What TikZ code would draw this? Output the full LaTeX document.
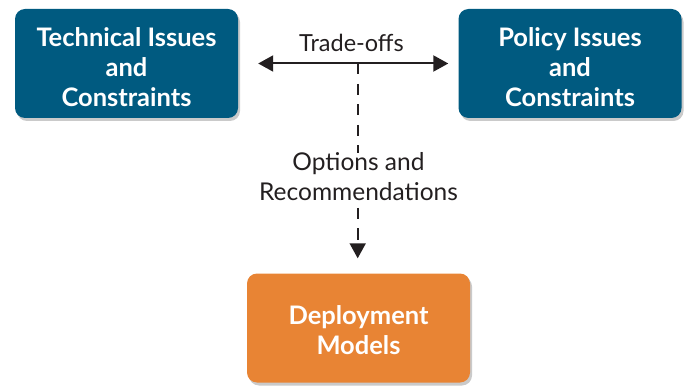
\documentclass[tikz,border=0pt]{standalone}
\usepackage{fontspec}
\setmainfont{Lato}
\usetikzlibrary{arrows.meta,shadows}
\definecolor{boxblue}{RGB}{0,90,128}
\definecolor{boxorange}{RGB}{232,132,52}
\definecolor{ink}{RGB}{35,31,32}
\newcommand{\lowerstrut}[1]{\rule{0pt}{#1}}
\tikzset{
  mainbox/.style={rounded corners=10pt, minimum width=223pt, minimum height=109pt,
    text=white, align=center, font=\bfseries\fontsize{25.5}{30}\selectfont,
    drop shadow={shadow xshift=2pt, shadow yshift=-3pt, opacity=0.35, fill=black!60}},
  bluebox/.style={mainbox, fill=boxblue},
  orangebox/.style={mainbox, fill=boxorange},
  lbl/.style={text=ink, align=center, font=\fontsize{24.5}{30}\selectfont, inner sep=0pt},
  dashline/.style={draw=ink, line width=1.8pt, dash pattern=on 11pt off 9.5pt},
  tip/.style={-{Triangle[length=15pt,width=16pt]}}
}
\begin{document}
\begin{tikzpicture}[x=1pt,y=1pt]
\useasboundingbox (0,0) rectangle (688,386);
\node[bluebox] (tech) at (126.5,322.5) {\lowerstrut{27pt}Technical Issues\\and\\Constraints};
\node[bluebox] (policy) at (570,322.5) {\lowerstrut{27pt}Policy Issues\\and\\Constraints};
\node[orangebox] (deploy) at (358.5,58) {\lowerstrut{23pt}Deployment\\Models};
\node[lbl, anchor=base, font=\fontsize{23.5}{30}\selectfont] (trade) at (351.5,334) {Trade-offs};
\node[lbl] (opts) at (358.5,209) {Options and\\Recommendations};
\coordinate (lend) at ([xshift=20pt]tech.east);
\coordinate (rend) at ([xshift=-10pt]policy.west);
\coordinate (junc) at (357.7,322.5);
\coordinate (dtop) at (357.7,178);
\draw[ink, line width=2pt, {Triangle[length=15pt,width=16pt]}-{Triangle[length=15pt,width=16pt]}] (lend) -- (rend);
\draw[dashline] (junc) -- (junc |- opts.north);
\draw[dashline, tip, shorten >=15pt] (dtop) -- (junc |- deploy.north);
\end{tikzpicture}
\end{document}
